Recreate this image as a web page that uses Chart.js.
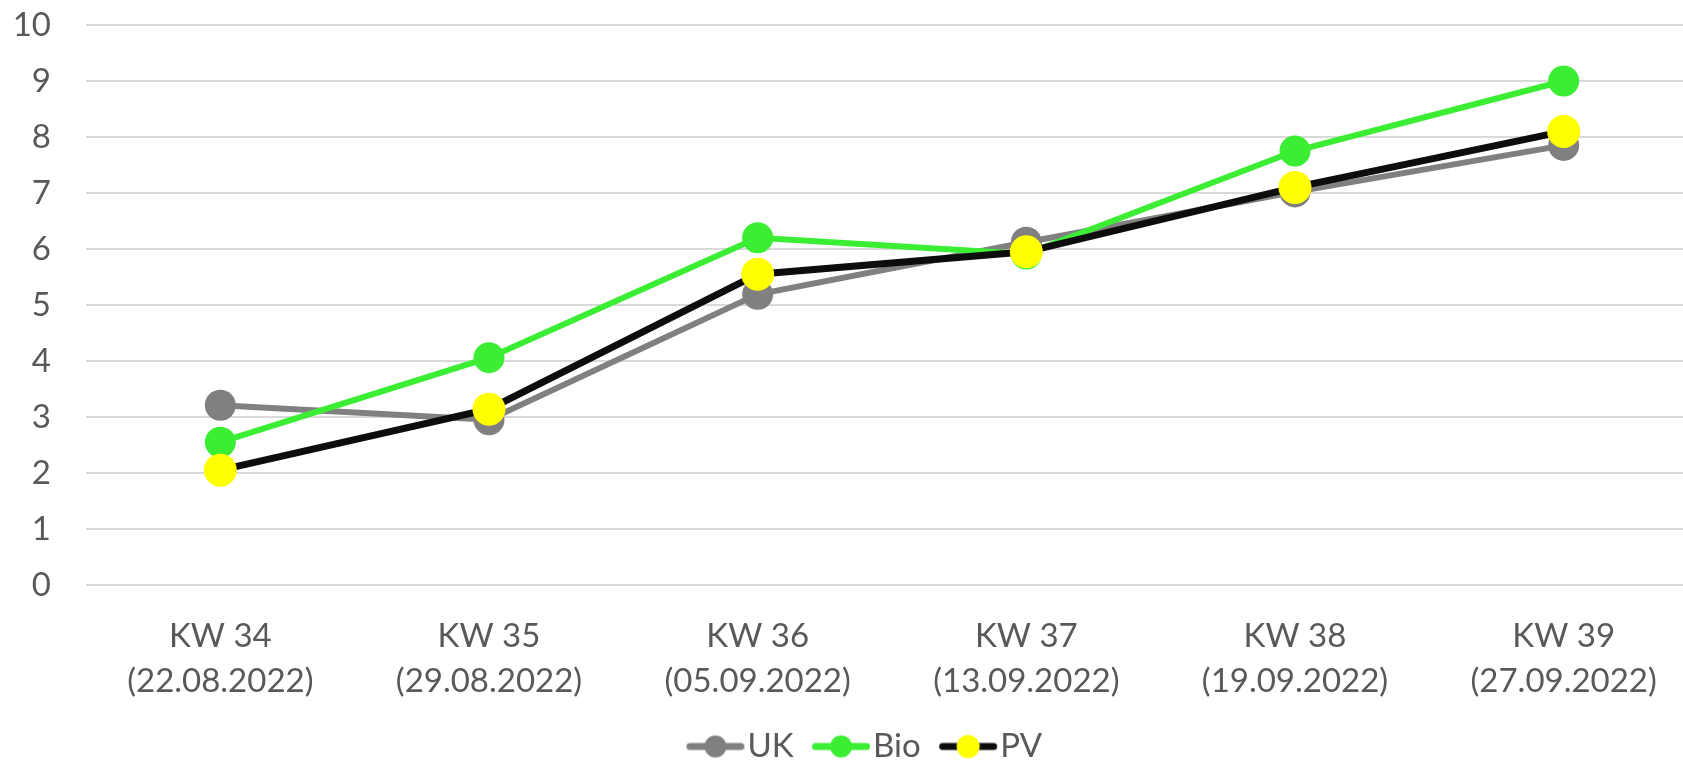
<!DOCTYPE html>
<html>
<head>
<meta charset="utf-8">
<script src="https://cdn.jsdelivr.net/npm/chart.js@4/dist/chart.umd.min.js"></script>
<style>
  html, body { margin: 0; padding: 0; background: #ffffff; overflow: hidden; }
  #wrap { position: absolute; left: 0; top: 0; width: 1720px; height: 773px; }
</style>
</head>
<body>
<div id="wrap"><canvas id="c" width="1720" height="773"></canvas></div>
<script>
// ---- data ----
const categories = [
  ["KW 34", "(22.08.2022)"],
  ["KW 35", "(29.08.2022)"],
  ["KW 36", "(05.09.2022)"],
  ["KW 37", "(13.09.2022)"],
  ["KW 38", "(19.09.2022)"],
  ["KW 39", "(27.09.2022)"]
];
const seriesNames = ["UK", "Bio", "PV"];
const ukValues  = [3.21, 2.95, 5.19, 6.12, 7.02, 7.85];
const bioValues = [2.55, 4.06, 6.20, 5.91, 7.75, 9.00];
const pvValues  = [2.05, 3.14, 5.55, 5.95, 7.10, 8.10];
const yTicks = [0, 1, 2, 3, 4, 5, 6, 7, 8, 9, 10];

// ---- style ----
const FONT = "Lato, 'Open Sans', sans-serif";
const TEXT = "#595959";
const styles = [
  { line: "#808080", fill: "#808080", width: 6, radius: 15.5, legendR: 11 },
  { line: "#3bee33", fill: "#3bee33", width: 6, radius: 15.5, legendR: 11 },
  { line: "#0d0d0d", fill: "#ffff00", width: 7, radius: 16.5, legendR: 11.5 }
];

function legendImage(s) {
  const c = document.createElement("canvas");
  c.width = 84; c.height = 30;
  const g = c.getContext("2d");
  g.strokeStyle = s.line; g.lineWidth = 7; g.lineCap = "round";
  g.beginPath(); g.moveTo(24 + 3.5, 15); g.lineTo(82 - 3.5, 15); g.stroke();
  g.fillStyle = s.fill;
  g.beginPath(); g.arc(53, 15, s.legendR, 0, Math.PI * 2); g.fill();
  return c;
}
const legendImgs = styles.map(legendImage);

const valueSets = [ukValues, bioValues, pvValues];
const datasets = seriesNames.map((name, i) => ({
  label: name,
  data: valueSets[i],
  borderColor: styles[i].line,
  backgroundColor: styles[i].fill,
  borderWidth: styles[i].width,
  pointRadius: styles[i].radius,
  pointHoverRadius: styles[i].radius,
  pointBackgroundColor: styles[i].fill,
  pointBorderWidth: 0,
  pointBorderColor: styles[i].fill,
  tension: 0,
  fill: false,
  order: 3 - i,
  yAxisID: "y"
}));

new Chart(document.getElementById("c"), {
  type: "line",
  data: { labels: categories, datasets },
  options: {
    responsive: false,
    animation: false,
    devicePixelRatio: 1,
    layout: { padding: { top: 25, left: 0, right: 0, bottom: 0 } },
    plugins: {
      tooltip: { enabled: false },
      legend: {
        position: "bottom",
        labels: {
          usePointStyle: true,
          pointStyleWidth: 53,
          padding: 10,
          color: TEXT,
          font: { family: FONT, size: 33 },
          sort: (a, b) => a.datasetIndex - b.datasetIndex,
          generateLabels: (chart) => {
            const items = Chart.defaults.plugins.legend.labels.generateLabels(chart);
            items.forEach(it => { it.pointStyle = legendImgs[it.datasetIndex]; });
            return items;
          }
        }
      }
    },
    scales: {
      x: {
        type: "category",
        offset: true,
        grid: { display: false, drawTicks: false },
        border: { display: false },
        ticks: {
          color: TEXT,
          font: { family: FONT, size: 33, lineHeight: 45 / 33 },
          padding: 29,
          autoSkip: false,
          maxRotation: 0,
          minRotation: 0
        },
        afterFit: (s) => { s.height = 135; }
      },
      y: {
        position: "left",
        min: 0,
        max: 10,
        afterBuildTicks: (s) => { s.ticks = yTicks.map(v => ({ value: v })); },
        grid: { color: "#d9d9d9", lineWidth: 2, drawTicks: false },
        border: { display: false },
        ticks: {
          color: TEXT,
          font: { family: FONT, size: 33 },
          padding: 35
        },
        afterFit: (s) => { s.width = 86; s.paddingTop = 0; s.paddingBottom = 0; }
      },
      y2: {
        position: "right",
        display: true,
        grid: { display: false, drawTicks: false },
        border: { display: false },
        ticks: { display: false },
        afterFit: (s) => { s.width = 22; s.paddingTop = 0; s.paddingBottom = 0; }
      }
    }
  }
});
</script>
</body>
</html>
